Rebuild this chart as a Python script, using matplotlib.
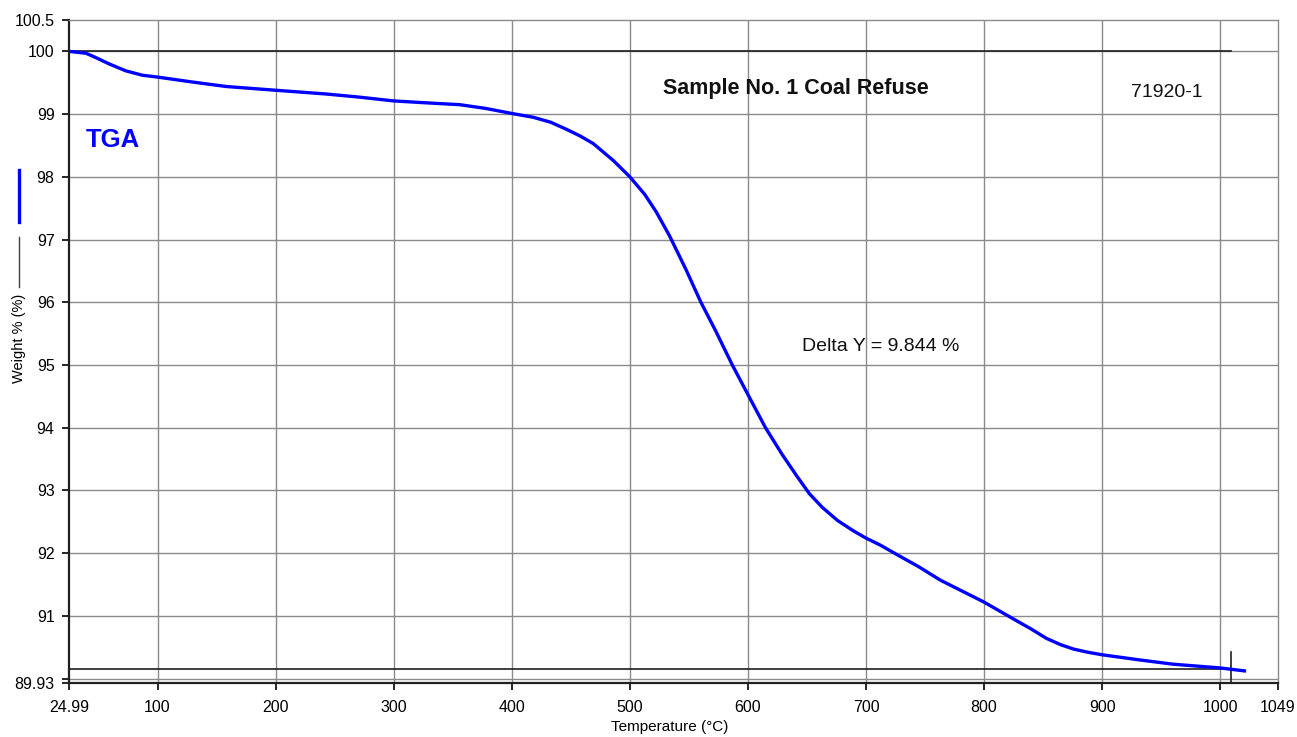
import matplotlib
matplotlib.use("Agg")
import matplotlib.pyplot as plt
from matplotlib.lines import Line2D

plt.rcParams['font.family'] = ['Liberation Sans', 'DejaVu Sans']

# TGA weight-loss curve of the coal refuse sample
temperature_c = [24.99, 39.3, 47.8, 59, 73, 87, 100, 130, 158, 200, 243, 271, 300,
                 327, 356, 378, 400, 418, 433, 446, 458, 469, 486, 500, 512.6,
                 522.4, 533.6, 547.6, 560.2, 572.8, 586.8, 600, 614.9, 628.8,
                 641.4, 652, 663, 676, 689, 700, 712, 726, 745, 763, 782, 800,
                 825, 840, 853, 865, 876, 888, 900, 931, 960, 1000, 1022]
weight_pct = [100.0, 99.97, 99.90, 99.80, 99.69, 99.62, 99.59, 99.51, 99.44, 99.38,
              99.32, 99.27, 99.21, 99.18, 99.15, 99.09, 99.01, 98.95, 98.87, 98.76,
              98.65, 98.53, 98.26, 98.0, 97.72, 97.44, 97.06, 96.52, 96.0, 95.54,
              95.0, 94.53, 94.0, 93.58, 93.23, 92.95, 92.73, 92.52, 92.36, 92.24,
              92.13, 91.98, 91.78, 91.57, 91.39, 91.22, 90.95, 90.79, 90.64, 90.54,
              90.47, 90.42, 90.38, 90.30, 90.23, 90.17, 90.12]

x_ticks = [24.99, 100, 200, 300, 400, 500, 600, 700, 800, 900, 1000, 1049]
x_tick_labels = ["24.99", "100", "200", "300", "400", "500", "600", "700", "800",
                 "900", "1000", "1049"]
y_ticks = [89.93, 90, 91, 92, 93, 94, 95, 96, 97, 98, 99, 100, 100.5]
y_tick_labels = ["89.93", "", "91", "92", "93", "94", "95", "96", "97", "98", "99",
                 "100", "100.5"]

# step analysis: weight change between start and end marker
delta_y = 9.844
start_weight = 100.0
step_end_temp = 1009

fig = plt.figure(figsize=(12.97, 7.37), dpi=100)
ax = fig.add_axes([69 / 1297, 1 - 683 / 737, (1278 - 69) / 1297, (683 - 20) / 737])

ax.set_xlim(24.99, 1049)
ax.set_ylim(89.93, 100.5)

# grid
grid_x = [100, 200, 300, 400, 500, 600, 700, 800, 900, 1000]
grid_y = [90, 91, 92, 93, 94, 95, 96, 97, 98, 99, 100]
for gx in grid_x:
    ax.axvline(gx, color='#8a8a8a', lw=1.0, zorder=1)
for gy in grid_y:
    ax.axhline(gy, color='#8a8a8a', lw=1.0, zorder=1)

# step reference lines
ax.plot([24.99, step_end_temp], [start_weight, start_weight], color='#202020',
        lw=1.2, zorder=2)
ax.plot([24.99, step_end_temp], [start_weight - delta_y, start_weight - delta_y],
        color='#202020', lw=1.2, zorder=2)
ax.plot([step_end_temp, step_end_temp], [89.93, 90.43], color='#202020', lw=1.2,
        zorder=2)

# curve
ax.plot(temperature_c, weight_pct, color='#0000ff', lw=2.4, zorder=3,
        solid_capstyle='butt', solid_joinstyle='round')

ax.set_xticks(x_ticks)
ax.set_xticklabels(x_tick_labels)
ax.set_yticks(y_ticks)
ax.set_yticklabels(y_tick_labels)
ax.tick_params(axis='both', direction='out', length=5, width=1.2, colors='black',
               labelsize=11.5)
ax.tick_params(axis='x', pad=7)
ax.tick_params(axis='y', pad=5.4)

for side in ['left', 'bottom']:
    ax.spines[side].set_color('#202020')
    ax.spines[side].set_linewidth(1.6)
for side in ['top', 'right']:
    ax.spines[side].set_color('#8a8a8a')
    ax.spines[side].set_linewidth(1.0)

# x-axis title
fig.text(670 / 1297, 1 - 727 / 737, "Temperature (\u00b0C)", fontsize=11,
         va='center', ha='center')

# annotations
ax.text(0.0135, 0.819, "TGA", transform=ax.transAxes, color='#0000ff',
        fontsize=18.5, fontweight='bold', va='center', ha='left')
ax.text(0.4913, 0.897, "Sample No. 1 Coal Refuse", transform=ax.transAxes,
        fontsize=15.5, fontweight='bold', va='center', ha='left', color='#111111')
ax.text(0.878, 0.891, "71920-1", transform=ax.transAxes, fontsize=14,
        va='center', ha='left', color='#111111')
ax.text(0.606, 0.507, f"Delta Y = {delta_y:.3f} %", transform=ax.transAxes,
        fontsize=14, va='center', ha='left', color='#111111')

# y-axis label with series keys
fig.text(19 / 1297, 1 - 338 / 737, "Weight % (%)", rotation=90, fontsize=10.5,
         va='center', ha='center')
fig.add_artist(Line2D([19 / 1297, 19 / 1297], [1 - 287 / 737, 1 - 237 / 737],
                      color='#404040', lw=1.0, transform=fig.transFigure))
fig.add_artist(Line2D([19 / 1297, 19 / 1297], [1 - 222 / 737, 1 - 170 / 737],
                      color='#0000ff', lw=2.4, transform=fig.transFigure))

fig.savefig("out.png", dpi=100, facecolor='white')
